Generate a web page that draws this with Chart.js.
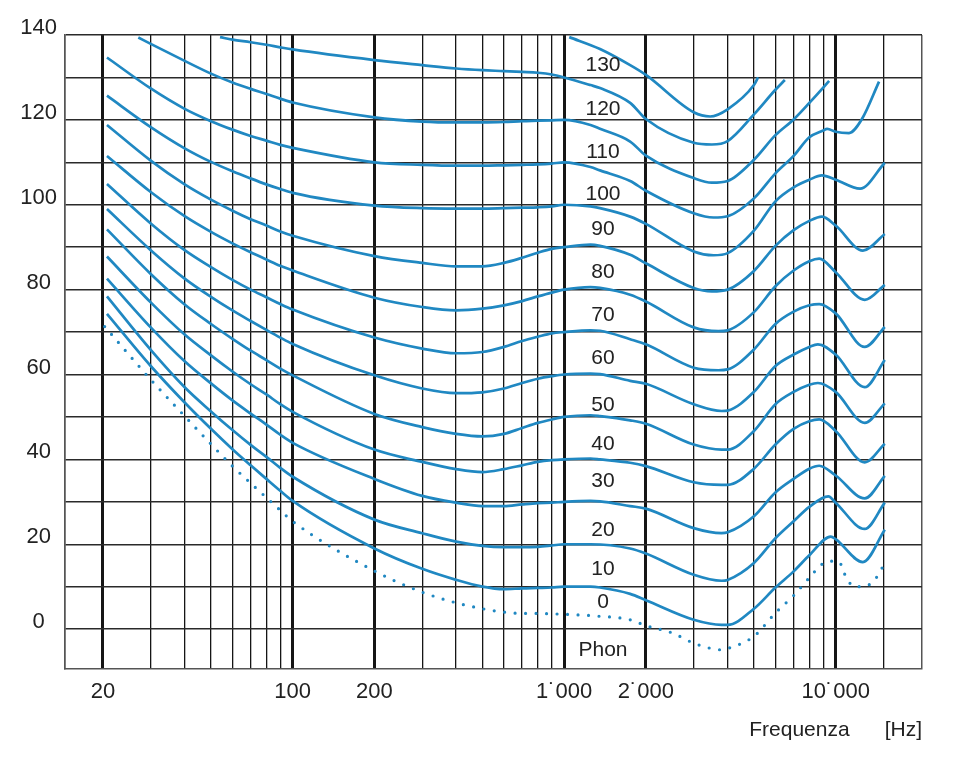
<!DOCTYPE html>
<html>
<head>
<meta charset="utf-8">
<script src="https://cdn.jsdelivr.net/npm/chart.js@4.4.1/dist/chart.umd.min.js"></script>
<style>
  html, body { margin: 0; padding: 0; background: #fff; }
  .isofone__chart { width: 971px; height: 767px; }
</style>
</head>
<body>
<div class="isofone__chart"><canvas id="isofone"></canvas></div>
<script>
// curve isofoniche: [frequenza Hz, livello dB]
const phon0 = [[20.3,71.3],[30,58.8],[40,50.2],[50,43.6],[60,38.4],[70,34.4],[80,31.0],[90,28.0],[100,25.4],[200,13.7],[300,8.7],[400,6.2],[500,4.8],[600,4.0],[700,3.7],[800,3.7],[900,3.6],[1000,3.5],[1300,3.1],[1750,2.2],[2000,0.8],[2500,-0.9],[3000,-3.3],[3500,-4.6],[3850,-4.9],[4000,-4.6],[5000,-1.7],[6000,3.8],[7000,7.9],[8000,12.1],[9000,15.5],[9800,16.0],[10300,15.8],[11000,11.8],[11800,10.0],[13000,10.2],[14000,11.8],[15100,15.3]];
const phon10 = [[20.7,74.3],[30,62.0],[40,53.4],[50,47.2],[60,42.4],[70,38.6],[80,35.4],[90,32.6],[100,30.2],[200,19.0],[300,14.2],[400,11.6],[500,10.0],[600,9.4],[700,9.6],[800,9.7],[900,9.8],[1000,10.0],[1250,10.0],[1355,9.8],[1750,8.3],[2000,6.8],[3000,2.2],[3800,1.0],[4000,1.0],[5000,4.8],[6000,9.8],[7000,13.6],[8000,17.4],[9600,21.8],[10000,21.2],[12600,15.8],[15170,23.4]];
const phon20 = [[20.7,78.4],[30,65.8],[40,57.0],[50,51.3],[60,46.9],[70,43.4],[80,40.6],[90,38.0],[100,35.9],[200,25.8],[300,22.6],[400,20.6],[500,19.6],[600,19.3],[700,19.3],[800,19.4],[900,19.7],[1000,20.0],[1250,20.0],[1750,19.0],[2000,17.8],[3000,12.8],[3800,11.4],[4000,11.6],[5000,15.6],[6000,21.4],[7000,25.4],[8000,28.8],[9400,31.3],[10000,29.8],[12800,23.6],[15170,29.8]];
const phon30 = [[20.7,82.6],[30,71.1],[40,63.1],[50,57.9],[60,53.9],[70,50.8],[80,48.2],[90,45.8],[100,43.9],[200,35.4],[300,31.4],[400,29.8],[500,29.0],[600,29.0],[700,29.4],[800,29.7],[900,29.8],[1000,30.0],[1250,30.2],[1355,30.1],[1750,29.0],[2000,28.4],[3000,23.8],[3800,22.6],[4000,22.8],[5000,26.6],[6000,32.2],[7000,35.4],[8000,37.8],[8700,38.5],[10000,36.2],[12800,30.8],[15170,36.1]];
const phon40 = [[20.7,87.8],[30,77.0],[40,69.4],[50,64.5],[60,60.7],[70,57.7],[80,55.3],[90,53.0],[100,51.2],[200,42.3],[300,39.4],[400,37.7],[500,37.0],[600,37.7],[700,38.6],[800,39.4],[900,39.8],[1000,40.0],[1250,40.2],[1355,40.0],[1750,39.2],[2000,38.4],[3000,34.6],[3800,34.0],[4000,34.0],[5000,37.8],[6000,43.5],[7000,47.2],[8000,49.0],[8700,49.4],[10000,46.7],[12800,39.3],[15170,43.7]];
const phon50 = [[20.7,94.2],[30,83.7],[40,76.5],[50,71.9],[60,68.4],[70,65.6],[80,63.4],[90,61.4],[100,59.8],[200,50.7],[300,47.6],[400,46.0],[500,45.4],[600,46.0],[700,47.4],[800,48.6],[900,49.4],[1000,50.0],[1250,50.4],[1355,50.2],[1750,49.2],[2000,48.4],[3000,43.5],[3800,42.3],[4000,42.3],[5000,46.7],[6000,53.0],[7000,55.9],[8000,57.6],[8600,58.0],[10000,55.9],[12800,48.6],[15170,53.2]];
const phon60 = [[20.7,99.0],[30,89.3],[40,82.6],[50,78.3],[60,75.1],[70,72.6],[80,70.5],[90,68.7],[100,67.2],[200,59.8],[300,56.7],[400,55.6],[500,55.8],[600,56.7],[700,58.0],[800,59.0],[900,59.6],[1000,60.0],[1250,60.2],[1355,60.1],[1750,58.5],[2000,57.8],[3000,53.0],[3800,51.4],[4000,51.5],[5000,55.9],[6000,62.0],[7000,64.7],[8000,66.5],[8600,67.1],[10000,64.7],[12800,57.0],[15170,63.4]];
const phon70 = [[20.7,104.9],[30,95.6],[40,89.3],[50,85.3],[60,82.3],[70,80.0],[80,78.2],[90,76.6],[100,75.3],[200,68.7],[300,66.1],[400,65.0],[500,65.3],[600,66.5],[700,67.9],[800,68.9],[900,69.7],[1000,70.0],[1250,70.4],[1355,70.3],[1750,68.3],[2000,67.1],[3000,61.6],[3700,61.0],[4000,61.2],[5000,65.9],[6000,71.9],[7000,74.8],[8000,76.3],[8700,76.6],[10000,74.4],[12800,66.5],[15170,71.2]];
const phon80 = [[20.7,111.5],[30,103.0],[40,97.3],[50,93.6],[60,90.9],[70,88.8],[80,87.1],[90,85.6],[100,84.5],[200,78.1],[300,75.9],[400,75.1],[500,75.5],[600,76.3],[700,77.3],[800,78.4],[900,79.3],[1000,80.0],[1250,80.6],[1355,80.4],[1750,78.8],[2000,77.2],[3000,71.1],[3700,70.2],[4000,70.4],[5000,74.7],[6000,80.8],[7000,84.5],[8000,86.7],[8700,87.3],[10000,84.1],[12800,77.6],[15170,81.1]];
const phon90 = [[20.7,118.8],[30,110.4],[40,104.8],[50,101.2],[60,98.6],[70,96.6],[80,95.1],[90,93.7],[100,92.7],[200,87.9],[300,86.3],[400,85.5],[500,85.5],[600,86.3],[700,87.5],[800,88.7],[900,89.6],[1000,90.0],[1250,90.6],[1355,90.3],[1750,88.2],[2000,86.2],[3000,80.4],[3500,79.6],[4000,80.0],[5000,84.4],[6000,90.3],[7000,94.0],[8000,96.2],[8900,97.2],[10000,95.1],[12600,89.2],[15170,93.1]];
const phon100 = [[20.7,125.7],[30,118.3],[40,113.3],[50,110.1],[60,107.9],[70,106.2],[80,104.8],[90,103.7],[100,102.8],[200,99.8],[300,99.2],[400,99.1],[500,99.1],[600,99.2],[700,99.3],[800,99.4],[900,99.6],[1000,100.0],[1250,99.6],[1355,99.2],[1750,97.2],[2000,95.5],[3000,89.0],[3550,88.1],[4000,88.6],[5000,93.9],[6000,100.8],[7000,104.1],[8000,105.9],[8900,106.9],[10000,105.9],[12300,103.8],[15170,109.9]];
const phon110 = [[20.7,134.7],[30,127.4],[40,122.6],[50,119.7],[60,117.7],[70,116.2],[80,115.1],[90,114.1],[100,113.4],[200,110.0],[300,109.4],[400,109.2],[500,109.2],[600,109.3],[700,109.4],[800,109.5],[900,109.7],[1000,110.0],[1250,108.9],[1355,108.1],[1750,105.6],[2000,103.3],[3000,98.0],[3550,97.0],[4000,97.3],[5000,101.5],[6000,107.4],[7000,111.5],[8000,115.9],[9000,117.5],[9300,117.9],[10000,117.2],[11200,116.9],[12500,120.2],[14450,129.0]];
const phon120 = [[27,139.4],[30,137.9],[40,133.9],[50,130.9],[60,128.8],[70,127.3],[80,126.1],[90,125.0],[100,124.1],[200,120.6],[300,119.6],[400,119.4],[500,119.4],[600,119.5],[700,119.7],[800,119.8],[900,119.9],[1000,120.0],[1250,118.8],[1355,117.9],[1750,114.9],[2000,111.6],[3000,106.3],[3500,105.2],[4000,105.6],[5000,110.6],[6000,116.4],[7000,120.1],[8000,124.0],[9000,127.6],[9460,129.2]];
const phon130 = [[54,139.5],[60,138.9],[70,138.3],[80,137.7],[90,137.1],[100,136.6],[200,134.1],[300,132.9],[400,132.1],[500,131.7],[600,131.5],[700,131.3],[800,131.1],[900,130.7],[1000,130.0],[1250,128.2],[1355,127.5],[1750,124.0],[2000,120.2],[3000,114.6],[3500,114.2],[4000,115.0],[5000,121.3],[6000,127.1],[6500,129.4]];
const phon140 = [[1044,139.5],[1355,136.7],[1750,132.9],[2000,130.6],[3000,121.8],[3450,120.8],[4000,122.5],[5000,128.2],[5180,130.0]];

const curveSolide = [phon10, phon20, phon30, phon40, phon50, phon60, phon70, phon80, phon90, phon100, phon110, phon120, phon130, phon140];

// etichette delle curve (posizione in Hz / dB)
const phonTesti = ['0', '10', '20', '30', '40', '50', '60', '70', '80', '90', '100', '110', '120', '130', 'Phon'];
const phonLivelli = [6.3, 14.2, 23.2, 34.8, 43.6, 52.8, 63.9, 74.0, 84.2, 94.3, 102.4, 112.4, 122.6, 132.8, -4.9];
const phonFreq = 1390;

// griglia
const freqGriglia = [20, 30, 40, 50, 60, 70, 80, 90, 100, 200, 300, 400, 500, 600, 700, 800, 900, 1000, 2000, 3000, 4000, 5000, 6000, 7000, 8000, 9000, 10000, 15000];
const freqPrincipali = [20, 100, 200, 1000, 2000, 10000];
const dbGriglia = [0, 10, 20, 30, 40, 50, 60, 70, 80, 90, 100, 110, 120, 130, 140];

const blu = '#2088c2';
const font = '"Liberation Sans", Arial, sans-serif';

const etichettePhon = {
  id: 'etichettePhon',
  afterDatasetsDraw(chart) {
    const { ctx, scales: { x, y } } = chart;
    ctx.save();
    ctx.font = '21px ' + font;
    ctx.fillStyle = '#222';
    ctx.textAlign = 'center';
    ctx.textBaseline = 'middle';
    phonTesti.forEach((t, i) => {
      ctx.fillText(t, x.getPixelForValue(phonFreq), y.getPixelForValue(phonLivelli[i]));
    });
    ctx.restore();
  }
};

const datasets = curveSolide.map(c => ({
  data: c.map(p => ({ x: p[0], y: p[1] })),
  borderColor: blu,
  borderWidth: 2.7,
  pointRadius: 0,
  showLine: true,
  cubicInterpolationMode: 'monotone'
}));

datasets.push({
  data: phon0.map(p => ({ x: p[0], y: p[1] })),
  borderColor: blu,
  borderWidth: 3.2,
  borderDash: [0, 10.5],
  borderCapStyle: 'round',
  pointRadius: 0,
  showLine: true,
  cubicInterpolationMode: 'monotone'
});

function formatFreq(v) {
  return v >= 1000 ? String(v / 1000) + '\u02D9000' : String(v);
}

new Chart(document.getElementById('isofone'), {
  type: 'scatter',
  data: { datasets },
  options: {
    responsive: true,
    maintainAspectRatio: false,
    animation: false,
    layout: { padding: { left: 0, top: 35, right: 49, bottom: 0 } },
    plugins: {
      legend: { display: false },
      tooltip: { enabled: false }
    },
    scales: {
      x: {
        type: 'logarithmic',
        position: 'bottom',
        min: 14.5,
        max: 20800,
        afterBuildTicks: s => {
          s.ticks = [s.min].concat(freqGriglia, [s.max]).map(v => ({ value: v }));
        },
        afterFit: s => { s.height = 98; },
        ticks: {
          autoSkip: false,
          maxRotation: 0,
          padding: 10,
          color: '#222',
          font: { size: 22, family: font },
          callback: v => freqPrincipali.includes(v) ? formatFreq(v) : ''
        },
        grid: {
          drawTicks: false,
          color: ctx => freqGriglia.includes(ctx.tick.value) ? '#151515' : '#555',
          lineWidth: ctx => freqPrincipali.includes(ctx.tick.value) ? 3 : (freqGriglia.includes(ctx.tick.value) ? 1.3 : 1.5)
        },
        border: { color: '#555', width: 1.5 },
        title: {
          display: true,
          text: 'Frequenza      [Hz]',
          align: 'end',
          color: '#222',
          font: { size: 21, family: font },
          padding: { top: 0, bottom: 24 }
        }
      },
      y: {
        min: -9.4,
        max: 140,
        afterBuildTicks: s => {
          s.ticks = dbGriglia.map(v => ({ value: v }));
        },
        afterFit: s => { s.width = 65; },
        ticks: {
          crossAlign: 'center',
          padding: 8,
          labelOffset: -7,
          color: '#222',
          font: { size: 22, family: font },
          callback: v => v % 20 === 0 ? String(v) : ''
        },
        grid: {
          drawTicks: false,
          color: '#2a2a2a',
          lineWidth: 1.4
        },
        border: { color: '#555', width: 1.5 }
      }
    }
  },
  plugins: [etichettePhon]
});
</script>
</body>
</html>
